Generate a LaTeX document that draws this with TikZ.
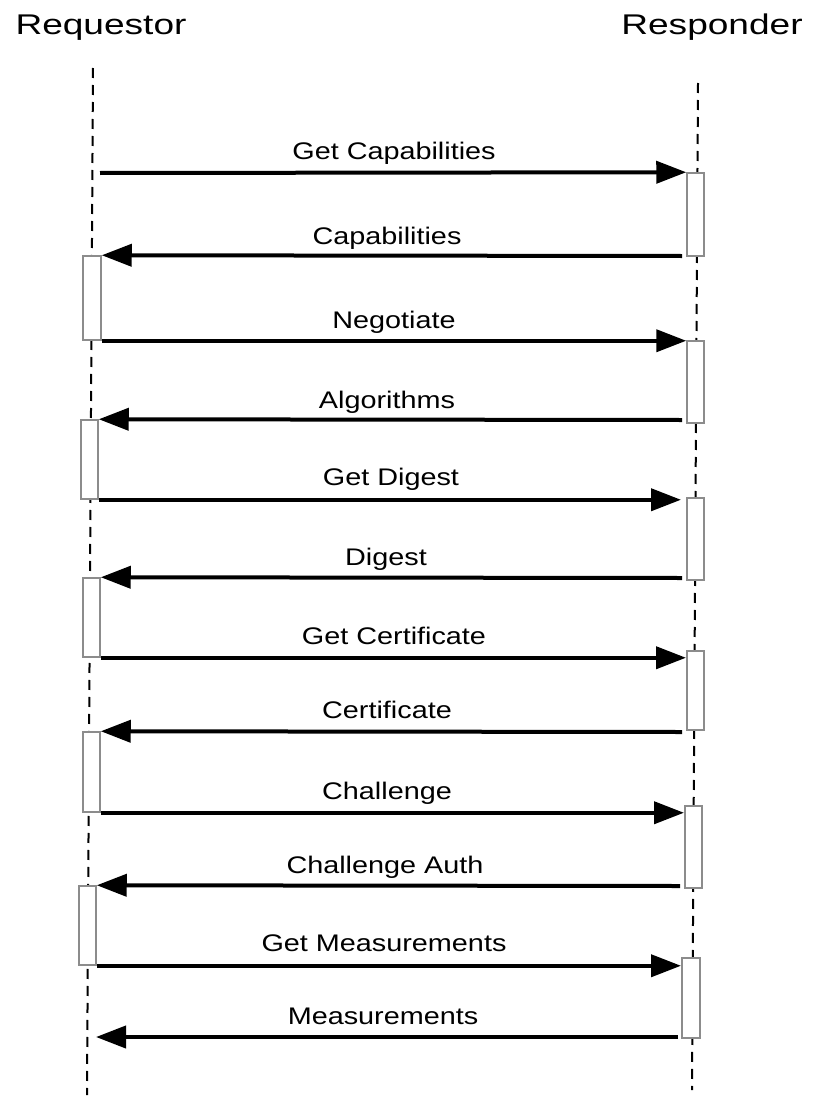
\documentclass[tikz,border=0pt]{standalone}
\usepackage{fontspec}
\setmainfont{Liberation Sans}[FakeStretch=1.2]
\newfontfamily\titlefont{Liberation Sans}[FakeStretch=1.3]
\usetikzlibrary{arrows.meta,fit}
\begin{document}
\begin{tikzpicture}[x=1pt,y=-1pt,
  lifeline/.style={draw=black,line width=2pt,dash pattern=on 10pt off 7pt},
  actbox/.style={draw=black!45,fill=white,line width=1.5pt,inner sep=0pt},
  msg/.style={draw=black,line width=4pt,-{Triangle[length=30pt,width=22pt]}},
  lbl/.style={anchor=base,inner sep=0pt,font=\fontsize{24}{28}\selectfont},
  ttl/.style={anchor=base,inner sep=0pt,font=\titlefont\fontsize{28.5}{34}\selectfont}]
\useasboundingbox (0,0) rectangle (819,1097);
% titles
\node[ttl] (req) at (101,35) {Requestor};
\node[ttl] (resp) at (712,35) {Responder};
% lifelines
\coordinate (lt) at (93,68);
\coordinate (lb) at (87,1095);
\coordinate (rt) at (698,83);
\coordinate (rb) at (692,1090);
\draw[lifeline] (lt) -- (lb);
\draw[lifeline] (rt) -- (rb);
% activation boxes, responder
\node[actbox,fit={(687,173) (704,256)}] (R1) {};
\node[actbox,fit={(687,341) (704,423)}] (R2) {};
\node[actbox,fit={(687,498) (704,580)}] (R3) {};
\node[actbox,fit={(687,651) (704,730)}] (R4) {};
\node[actbox,fit={(685,806) (702,888)}] (R5) {};
\node[actbox,fit={(682,958) (700,1038)}] (R6) {};
% activation boxes, requestor
\node[actbox,fit={(83,256) (101,340)}] (L1) {};
\node[actbox,fit={(81,420) (98,499)}] (L2) {};
\node[actbox,fit={(83,578) (100,657)}] (L3) {};
\node[actbox,fit={(83,732) (100,812)}] (L4) {};
\node[actbox,fit={(79,886) (96,965)}] (L5) {};
% message end points
\coordinate (s1) at (100,173);
\coordinate (s2) at (682,256);
\coordinate (s4) at (682,420);
\coordinate (e5) at (681,498);
\coordinate (s6) at (682,578);
\coordinate (e7) at (686,657);
\coordinate (s8) at (682,732);
\coordinate (e9) at (684,812);
\coordinate (s10) at (680,886);
\coordinate (e11) at (681,964);
\coordinate (s12) at (678,1037);
\coordinate (e12) at (96,1037);
% messages
\draw[msg] (s1) -- (R1.north west);
\draw[msg] (s2) -- (L1.north east);
\draw[msg] (L1.south east) -- (L1.south east -| R2.north west);
\draw[msg] (s4) -- (L2.north east);
\draw[msg] (L2.south east) -- (L2.south east -| e5);
\draw[msg] (s6) -- (L3.north east);
\draw[msg] (L3.south east) -- (L3.south east -| e7);
\draw[msg] (s8) -- (L4.north east);
\draw[msg] (L4.south east) -- (L4.south east -| e9);
\draw[msg] (s10) -- (L5.north east);
\draw[msg] (L5.south east) -- (L5.south east -| e11);
\draw[msg] (s12) -- (e12);
% labels
\node[lbl] (m1) at (394,160) {Get Capabilities};
\node[lbl] (m2) at (387,244) {Capabilities};
\node[lbl] (m3) at (394,328) {Negotiate};
\node[lbl] (m4) at (387,408) {Algorithms};
\node[lbl] (m5) at (391,485) {Get Digest};
\node[lbl] (m6) at (386,565) {Digest};
\node[lbl] (m7) at (394,644) {Get Certificate};
\node[lbl] (m8) at (387,718) {Certificate};
\node[lbl] (m9) at (387,799) {Challenge};
\node[lbl] (m10) at (385,873) {Challenge Auth};
\node[lbl] (m11) at (384,951) {Get Measurements};
\node[lbl] (m12) at (383,1024) {Measurements};
\end{tikzpicture}
\end{document}
